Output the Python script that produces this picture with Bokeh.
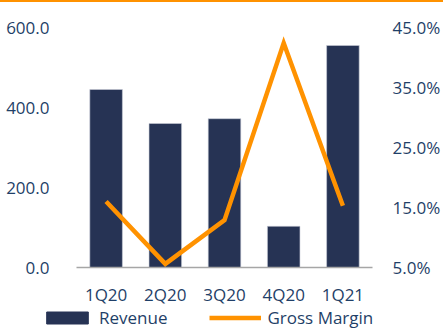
from bokeh.plotting import figure
from bokeh.layouts import column
from bokeh.models import (Range1d, LinearAxis, FixedTicker, NumeralTickFormatter,
                          PrintfTickFormatter, Legend, LegendItem, ColumnDataSource)
from bokeh.embed import file_html
from bokeh.resources import INLINE

quarters = ["1Q20", "2Q20", "3Q20", "4Q20", "1Q21"]
revenue = [445, 360, 372, 103, 555]
gross_margin = [16.0, 5.6, 12.9, 42.4, 15.3]
left_ticks = [0, 200, 400, 600]
right_ticks = [5, 15, 25, 35, 45]

NAVY = "#263354"
ORANGE = "#FF9200"
TXT = "#1F3F68"
FONT = "Open Sans"
FS = "17px"

src = ColumnDataSource(dict(q=quarters, rev=revenue, gm=gross_margin))

p = figure(x_range=quarters, y_range=Range1d(0, 600), frame_width=296, frame_height=238,
           output_backend="svg", toolbar_location=None,
           min_border_left=76, min_border_right=0, min_border_top=25, min_border_bottom=42)
p.outline_line_color = None
p.xgrid.grid_line_color = None
p.ygrid.grid_line_color = None
p.extra_y_ranges = {"pct": Range1d(5, 45)}
p.styles = {"border-top": "2px solid #FF9200"}

bars = p.vbar(x="q", top="rev", width=0.55, source=src, fill_color=NAVY, line_color="#C9CDD6", line_width=0.6)
line = p.line(x="q", y="gm", source=src, y_range_name="pct", line_color=ORANGE, line_width=4.5,
              line_join="miter")

# left axis
la = p.yaxis[0]
la.ticker = FixedTicker(ticks=left_ticks)
la.formatter = NumeralTickFormatter(format="0.0")
la.axis_line_color = None
la.major_tick_line_color = None
la.minor_tick_line_color = None
la.major_label_text_font = FONT
la.major_label_text_font_size = FS
la.major_label_text_color = TXT
la.major_label_standoff = 21

ra = LinearAxis(y_range_name="pct", ticker=FixedTicker(ticks=right_ticks),
                formatter=PrintfTickFormatter(format="%.1f%%"))
ra.axis_line_color = None
ra.major_tick_line_color = None
ra.minor_tick_line_color = None
ra.major_label_text_font = FONT
ra.major_label_text_font_size = FS
ra.major_label_text_color = TXT
ra.major_label_standoff = 14
p.add_layout(ra, "right")

xa = p.xaxis[0]
xa.axis_line_color = "#A6A6A6"
xa.axis_line_width = 1.5
xa.major_tick_line_color = None
xa.minor_tick_line_color = None
xa.major_label_text_font = FONT
xa.major_label_text_font_size = FS
xa.major_label_text_color = TXT
xa.major_label_standoff = 9

# legend strip below the chart (its renderers fall outside the strip's ranges, only the legend shows)
lg = figure(x_range=Range1d(0, 1), y_range=Range1d(0, 1), frame_width=434, frame_height=22,
            output_backend="svg", toolbar_location=None, x_axis_type=None, y_axis_type=None,
            min_border_left=0, min_border_right=0, min_border_top=0, min_border_bottom=0)
lg.outline_line_color = None
lg.xgrid.grid_line_color = None
lg.ygrid.grid_line_color = None
lbar = lg.vbar(x="rev", top="rev", width=0.5, source=src, fill_color=NAVY, line_color=NAVY)
lline = lg.line(x="rev", y="gm", source=src, line_color=ORANGE, line_width=4.5)

legend = Legend(items=[LegendItem(label="Revenue", renderers=[lbar]),
                       LegendItem(label="Gross Margin", renderers=[lline])],
                orientation="horizontal", location=(41, 0))
legend.glyph_width = 52
legend.glyph_height = 15
legend.label_standoff = 6
legend.spacing = 42
legend.padding = 0
legend.margin = 0
legend.border_line_color = None
legend.background_fill_alpha = 0
legend.label_text_font = FONT
legend.label_text_font_size = FS
legend.label_text_color = TXT
lg.add_layout(legend, "center")

open("out.html", "w").write(file_html(column(p, lg, spacing=0), INLINE))
